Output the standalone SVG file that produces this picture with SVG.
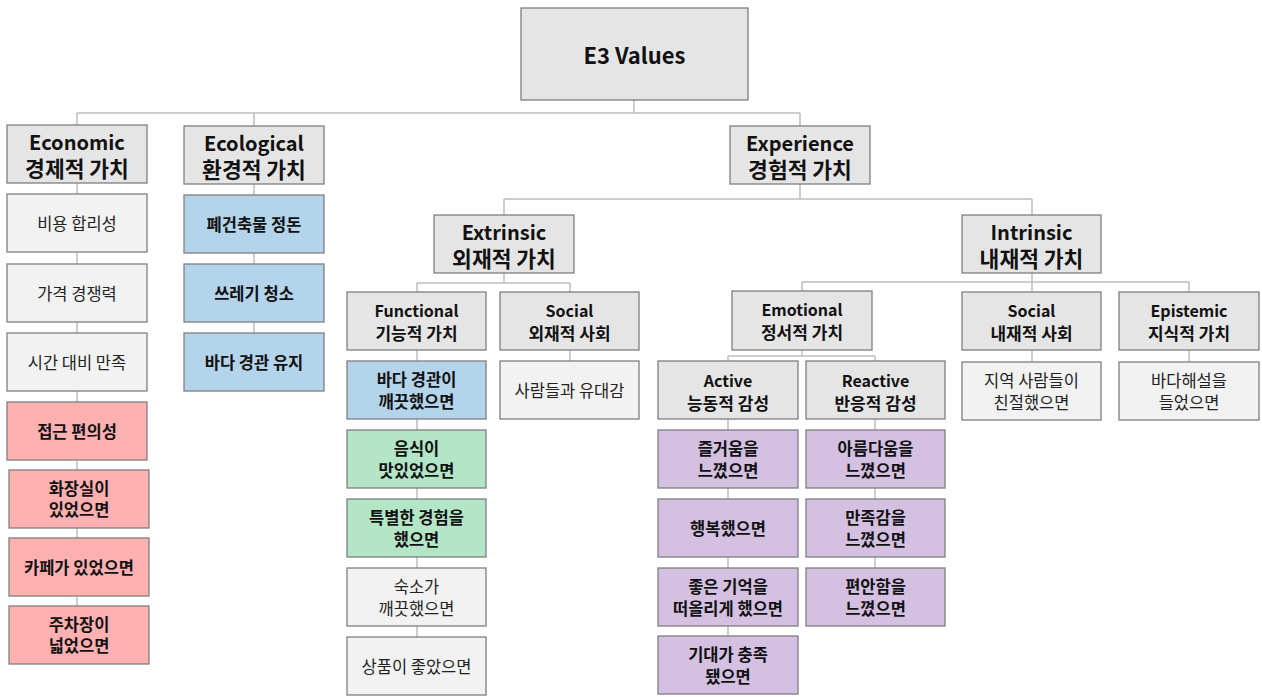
<svg xmlns="http://www.w3.org/2000/svg" width="1262" height="697" viewBox="0 0 1262 697">
<style>
rect{stroke:#7f7f7f;stroke-width:1.3}
.h{fill:#e5e5e5}
.w{fill:#f2f2f2}
.b{fill:#b4d4ec}
.p{fill:#ffb1b1}
.g{fill:#b3e5c7}
.v{fill:#d4c0e1}
text{font-family:"Noto Sans CJK KR","Noto Sans",sans-serif;fill:#111;text-anchor:middle;dominant-baseline:central}
.t1{font-size:22px;font-weight:bold}
.t2{font-size:20px;font-weight:bold}
.k2{font-size:21.5px;font-weight:bold}
.t3{font-size:16px;font-weight:bold}
.k3{font-size:17px;font-weight:bold}
.tb{font-size:16.5px;font-weight:bold}
.tn{font-size:16.5px;fill:#222}
#conn path{fill:none;stroke:#bdbdbd;stroke-width:1.5}
</style>
<rect x="0" y="0" width="1262" height="697" fill="#fff" style="stroke:none"/>
<g id="conn">
<path d="M634 100V113M77 113H800M77 113V125M254 113V126M800 113V126"/>
<path d="M77 183V606M254 184V333"/>
<path d="M800 184V199M504 199H1032M504 199V215M1032 199V215"/>
<path d="M504 273V283M417 283H570M417 283V292M570 283V292"/>
<path d="M417 350V637M570 350V361"/>
<path d="M1032 273V282M802 282H1189M802 282V291M1032 282V292M1189 282V292"/>
<path d="M802 350V356M728 356H875M728 356V361M875 356V361"/>
<path d="M728 419V636M875 419V568"/>
<path d="M1032 350V362M1189 350V362"/>
</g>
<g id="n-e3"><rect class="h" x="521" y="8" width="227" height="92"/><text class="t1" x="634.5" y="54">E3 Values</text></g>

<g id="n-economic"><rect class="h" x="7" y="125" width="140" height="58"/><text class="t2" x="77" y="141">Economic</text><text class="k2" x="77" y="167">경제적 가치</text></g>
<g id="n-eco1"><rect class="w" x="7" y="194" width="140" height="58"/><text class="tn" x="77" y="223">비용 합리성</text></g>
<g id="n-eco2"><rect class="w" x="7" y="264" width="140" height="58"/><text class="tn" x="77" y="293">가격 경쟁력</text></g>
<g id="n-eco3"><rect class="w" x="7" y="333" width="140" height="58"/><text class="tn" x="77" y="362">시간 대비 만족</text></g>
<g id="n-eco4"><rect class="p" x="7" y="402" width="140" height="58"/><text class="tb" x="77" y="431">접근 편의성</text></g>
<g id="n-eco5"><rect class="p" x="9" y="470" width="140" height="58"/><text class="tb" x="79" y="488">화장실이</text><text class="tb" x="79" y="509">있었으면</text></g>
<g id="n-eco6"><rect class="p" x="9" y="538" width="140" height="58"/><text class="tb" x="79" y="567">카페가 있었으면</text></g>
<g id="n-eco7"><rect class="p" x="9" y="606" width="140" height="58"/><text class="tb" x="79" y="624">주차장이</text><text class="tb" x="79" y="645">넓었으면</text></g>

<g id="n-ecological"><rect class="h" x="184" y="126" width="140" height="58"/><text class="t2" x="254" y="142">Ecological</text><text class="k2" x="254" y="168">환경적 가치</text></g>
<g id="n-eco-b1"><rect class="b" x="184" y="195" width="140" height="58"/><text class="tb" x="254" y="224">폐건축물 정돈</text></g>
<g id="n-eco-b2"><rect class="b" x="184" y="264" width="140" height="58"/><text class="tb" x="254" y="293">쓰레기 청소</text></g>
<g id="n-eco-b3"><rect class="b" x="184" y="333" width="140" height="58"/><text class="tb" x="254" y="362">바다 경관 유지</text></g>

<g id="n-experience"><rect class="h" x="730" y="126" width="140" height="58"/><text class="t2" x="800" y="142">Experience</text><text class="k2" x="800" y="168">경험적 가치</text></g>
<g id="n-extrinsic"><rect class="h" x="434" y="215" width="140" height="58"/><text class="t2" x="504" y="231">Extrinsic</text><text class="k2" x="504" y="257">외재적 가치</text></g>
<g id="n-intrinsic"><rect class="h" x="962" y="215" width="139" height="58"/><text class="t2" x="1031.5" y="231">Intrinsic</text><text class="k2" x="1031.5" y="257">내재적 가치</text></g>

<g id="n-functional"><rect class="h" x="347" y="292" width="139" height="58"/><text class="t3" x="416.5" y="310">Functional</text><text class="k3" x="416.5" y="332">기능적 가치</text></g>
<g id="n-f1"><rect class="b" x="347" y="361" width="139" height="58"/><text class="tb" x="416.5" y="379">바다 경관이</text><text class="tb" x="416.5" y="401">깨끗했으면</text></g>
<g id="n-f2"><rect class="g" x="347" y="430" width="139" height="58"/><text class="tb" x="416.5" y="448">음식이</text><text class="tb" x="416.5" y="470">맛있었으면</text></g>
<g id="n-f3"><rect class="g" x="347" y="499" width="139" height="58"/><text class="tb" x="416.5" y="517">특별한 경험을</text><text class="tb" x="416.5" y="539">했으면</text></g>
<g id="n-f4"><rect class="w" x="347" y="568" width="139" height="58"/><text class="tn" x="416.5" y="586">숙소가</text><text class="tn" x="416.5" y="608">깨끗했으면</text></g>
<g id="n-f5"><rect class="w" x="347" y="637" width="139" height="58"/><text class="tn" x="416.5" y="666">상품이 좋았으면</text></g>

<g id="n-social-ext"><rect class="h" x="500" y="292" width="139" height="58"/><text class="t3" x="569.5" y="310">Social</text><text class="k3" x="569.5" y="332">외재적 사회</text></g>
<g id="n-s1"><rect class="w" x="500" y="361" width="139" height="58"/><text class="tn" x="569.5" y="390">사람들과 유대감</text></g>

<g id="n-emotional"><rect class="h" x="732" y="291" width="140" height="59"/><text class="t3" x="802" y="309">Emotional</text><text class="k3" x="802" y="331">정서적 가치</text></g>
<g id="n-active"><rect class="h" x="658" y="361" width="140" height="58"/><text class="t3" x="728" y="380">Active</text><text class="k3" x="728" y="402">능동적 감성</text></g>
<g id="n-a1"><rect class="v" x="658" y="430" width="140" height="58"/><text class="tb" x="728" y="448">즐거움을</text><text class="tb" x="728" y="470">느꼈으면</text></g>
<g id="n-a2"><rect class="v" x="658" y="499" width="140" height="58"/><text class="tb" x="728" y="528">행복했으면</text></g>
<g id="n-a3"><rect class="v" x="658" y="568" width="140" height="58"/><text class="tb" x="728" y="586">좋은 기억을</text><text class="tb" x="728" y="608">떠올리게 했으면</text></g>
<g id="n-a4"><rect class="v" x="658" y="636" width="140" height="58"/><text class="tb" x="728" y="654">기대가 충족</text><text class="tb" x="728" y="676">됐으면</text></g>

<g id="n-reactive"><rect class="h" x="806" y="361" width="139" height="58"/><text class="t3" x="875.5" y="380">Reactive</text><text class="k3" x="875.5" y="402">반응적 감성</text></g>
<g id="n-r1"><rect class="v" x="806" y="430" width="139" height="58"/><text class="tb" x="875.5" y="448">아름다움을</text><text class="tb" x="875.5" y="470">느꼈으면</text></g>
<g id="n-r2"><rect class="v" x="806" y="499" width="139" height="58"/><text class="tb" x="875.5" y="517">만족감을</text><text class="tb" x="875.5" y="539">느꼈으면</text></g>
<g id="n-r3"><rect class="v" x="806" y="568" width="139" height="58"/><text class="tb" x="875.5" y="586">편안함을</text><text class="tb" x="875.5" y="608">느꼈으면</text></g>

<g id="n-social-int"><rect class="h" x="962" y="292" width="139" height="58"/><text class="t3" x="1031.5" y="310">Social</text><text class="k3" x="1031.5" y="332">내재적 사회</text></g>
<g id="n-si1"><rect class="w" x="962" y="362" width="139" height="58"/><text class="tn" x="1031.5" y="380">지역 사람들이</text><text class="tn" x="1031.5" y="402">친절했으면</text></g>
<g id="n-epistemic"><rect class="h" x="1119" y="292" width="140" height="58"/><text class="t3" x="1189" y="310">Epistemic</text><text class="k3" x="1189" y="332">지식적 가치</text></g>
<g id="n-ep1"><rect class="w" x="1119" y="362" width="140" height="58"/><text class="tn" x="1189" y="380">바다해설을</text><text class="tn" x="1189" y="402">들었으면</text></g>
</svg>
